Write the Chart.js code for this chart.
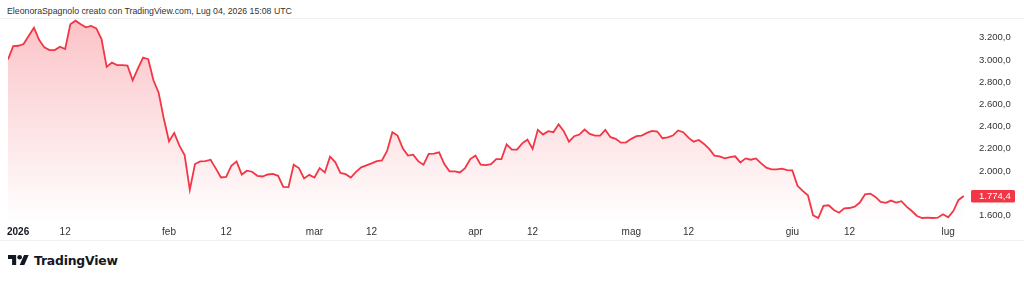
<!DOCTYPE html>
<html>
<head>
<meta charset="utf-8">
<script src="https://cdn.jsdelivr.net/npm/chart.js@4"></script>
<style>
  html, body { margin: 0; padding: 0; background: #fff; }
  body { width: 1024px; height: 282px; position: relative; overflow: hidden; font-family: 'Liberation Sans', Arial, sans-serif; }
  #header { position: absolute; left: 7px; top: 6px; font-size: 8.75px; line-height: 11px; color: #333; white-space: nowrap; }
  #frame { position: absolute; left: 0; top: 18px; width: 1024px; height: 223px; box-sizing: border-box; border-top: 1px solid #eef0f3; border-bottom: 1px solid #eef0f3; }
  #wrap { position: absolute; left: 0; top: 0; width: 1024px; height: 242px; }
  #logo { position: absolute; left: 8px; top: 252px; height: 16px; display: flex; align-items: center; }
  #logo svg { display: block; margin-right: 5px; }
  #logo span { font-family: 'DejaVu Sans', sans-serif; font-weight: 700; font-size: 12.4px; color: #131722; letter-spacing: -0.2px; }
</style>
</head>
<body>
<div id="header">EleonoraSpagnolo creato con TradingView.com, Lug 04, 2026 15:08 UTC</div>
<div id="frame"></div>
<div id="wrap"><canvas id="chartPrice"></canvas></div>
<div id="logo">
  <svg width="21" height="10" viewBox="0 4 36 18" preserveAspectRatio="none">
    <path d="M14 22H7V11H0V4h14v18zM28 22h-8l7.5-18h8L28 22z" fill="#131722"/>
    <circle cx="20" cy="8" r="4" fill="#131722"/>
  </svg>
  <span>TradingView</span>
</div>
<script>
// daily closes, 1 Jan -> 4 Jul 2026
const values = [
  3004, 3125, 3128, 3143, 3218, 3291, 3179, 3113, 3089, 3089,
  3119, 3098, 3321, 3354, 3321, 3294, 3306, 3285, 3188, 2938,
  2977, 2953, 2953, 2950, 2817, 2922, 3022, 3007, 2817, 2705,
  2470, 2267, 2343, 2228, 2143, 1830, 2062, 2086, 2089, 2101,
  2023, 1941, 1947, 2047, 2086, 1968, 2002, 1993, 1956, 1950,
  1968, 1974, 1956, 1857, 1854, 2056, 2026, 1932, 1965, 1941,
  2026, 1986, 2128, 2080, 1982, 1971, 1941, 1992, 2032, 2050,
  2068, 2089, 2095, 2183, 2349, 2319, 2204, 2138, 2147, 2086,
  2056, 2153, 2156, 2168, 2062, 1996, 1996, 1986, 2026, 2107,
  2138, 2056, 2053, 2062, 2107, 2107, 2240, 2192, 2192, 2249,
  2282, 2198, 2370, 2328, 2358, 2349, 2421, 2358, 2264, 2313,
  2328, 2373, 2334, 2319, 2319, 2370, 2304, 2289, 2255, 2258,
  2289, 2313, 2319, 2343, 2361, 2355, 2295, 2303, 2319, 2365,
  2349, 2300, 2264, 2279, 2243, 2198, 2138, 2132, 2113, 2125,
  2132, 2077, 2113, 2101, 2113, 2068, 2029, 2014, 2014, 2020,
  2008, 2005, 1866, 1820, 1781, 1600, 1576, 1685, 1691, 1648,
  1624, 1663, 1666, 1678, 1715, 1790, 1796, 1766, 1721, 1712,
  1733, 1715, 1727, 1678, 1639, 1594, 1576, 1579, 1576, 1579,
  1609, 1582, 1639, 1739, 1774.4
];

// time axis labels (day index from 1 Jan)
const tickDays = [0, 11, 31, 42, 59, 70, 90, 101, 120, 131, 151, 162, 181];
const tickLabels = ['2026', '12', 'feb', '12', 'mar', '12', 'apr', '12', 'mag', '12', 'giu', '12', 'lug'];

// price axis
const priceTicks = [1600, 1800, 2000, 2200, 2400, 2600, 2800, 3000, 3200];

const LINE_COLOR = '#f23645';
const TEXT_COLOR = '#333';
const FONT = "'Liberation Sans', Arial, sans-serif";

function fmt(v) {
  const parts = v.toFixed(1).split('.');
  return parts[0].replace(/\B(?=(\d{3})+(?!\d))/g, '.') + ',' + parts[1];
}

// x labels + last price badge, TradingView style
const overlay = {
  id: 'overlay',
  afterDraw(chart) {
    const { ctx, chartArea } = chart;
    const x = chart.scales.x;
    const y = chart.scales.y;
    ctx.save();
    ctx.textBaseline = 'middle';
    ctx.textAlign = 'left';
    tickDays.forEach((d, i) => {
      ctx.font = (i === 0 ? 'bold ' : '') + '10px ' + FONT;
      ctx.fillStyle = i === 0 ? '#131722' : TEXT_COLOR;
      const w = ctx.measureText(tickLabels[i]).width;
      let px = x.getPixelForValue(d) - w / 2;
      if (px < 7) px = 7;
      ctx.fillText(tickLabels[i], px, chartArea.bottom + 9.5);
    });

    const last = values[values.length - 1];
    const py = y.getPixelForValue(last);
    ctx.fillStyle = LINE_COLOR;
    ctx.beginPath();
    ctx.roundRect(chartArea.right, py - 6, 44, 12.5, 1.5);
    ctx.fill();
    ctx.fillStyle = '#fff';
    ctx.font = '9.5px ' + FONT;
    ctx.fillText(fmt(last), chartArea.right + 8, py + 0.5);
    ctx.restore();
  }
};

new Chart(document.getElementById('chartPrice'), {
  type: 'line',
  data: {
    datasets: [{
      data: values.map((v, i) => ({ x: i, y: v })),
      borderColor: LINE_COLOR,
      borderWidth: 1.8,
      pointRadius: 0,
      tension: 0,
      fill: 'start',
      backgroundColor: (c) => {
        const { ctx, chartArea } = c.chart;
        if (!chartArea) return 'rgba(242,54,69,0.15)';
        const g = ctx.createLinearGradient(0, chartArea.top, 0, chartArea.bottom);
        g.addColorStop(0, 'rgba(242,54,69,0.30)');
        g.addColorStop(1, 'rgba(242,54,69,0.0)');
        return g;
      }
    }]
  },
  options: {
    responsive: true,
    maintainAspectRatio: false,
    animation: false,
    layout: { padding: { left: 8, top: 18, bottom: 19, right: 0 } },
    plugins: {
      legend: { display: false },
      tooltip: { enabled: false }
    },
    scales: {
      x: {
        type: 'linear',
        min: 0,
        max: 185.4,
        display: false
      },
      y: {
        position: 'right',
        min: 1531,
        max: 3378,
        grid: { display: false, drawTicks: false },
        border: { display: false },
        afterBuildTicks: (scale) => {
          scale.ticks = priceTicks.map(v => ({ value: v }));
        },
        afterFit: (scale) => { scale.width = 53; },
        ticks: {
          padding: 8,
          color: TEXT_COLOR,
          font: { family: FONT, size: 9.5 },
          callback: (v) => fmt(v)
        }
      }
    }
  },
  plugins: [overlay]
});
</script>
</body>
</html>
